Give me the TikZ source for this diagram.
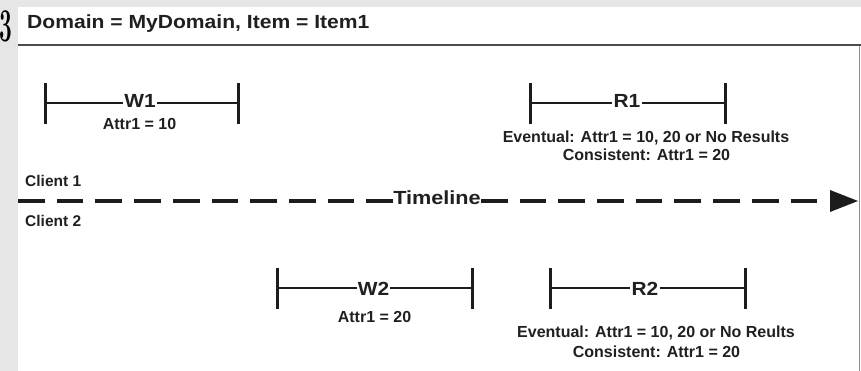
\documentclass[tikz,border=0pt]{standalone}
\usepackage{fontspec}
\newfontfamily\sansf{Liberation Sans}
\usetikzlibrary{calc}
\definecolor{bgc}{RGB}{230,230,230}
\definecolor{txtc}{RGB}{32,32,32}
\definecolor{linec}{RGB}{28,28,28}
\definecolor{rulec}{RGB}{75,75,75}
\definecolor{borderc}{RGB}{140,140,140}
\tikzset{
  small/.style={inner sep=0pt, anchor=base, text=txtc, font=\sansf\bfseries\fontsize{16}{16}\selectfont},
  client/.style={inner sep=0pt, anchor=base west, text=txtc, font=\sansf\bfseries\fontsize{15.5}{15.5}\selectfont},
  big/.style={inner sep=0pt, anchor=base, text=txtc, font=\sansf\bfseries\fontsize{19}{19}\selectfont},
  barline/.style={draw=linec, line width=2.5pt},
  tickline/.style={draw=linec, line width=3pt},
  timedash/.style={draw=linec, line width=3.8pt, dash pattern=on 26.7pt off 12pt},
}
\newcommand{\wide}[1]{\scalebox{1.1}[1]{#1}}
\begin{document}
\begin{tikzpicture}[x=1pt,y=-1pt]
\useasboundingbox (0,0) rectangle (861,371);
% background and panel
\fill[bgc] (0,0) rectangle (861,371);
\fill[white] (17.5,7) rectangle (861,371);
% digit at the left
\node[inner sep=0pt, anchor=base west, text=black, font=\bfseries\fontsize{47}{47}\selectfont] (digit) at (-1,42) {\scalebox{0.48}[1]{3}};
% title and rules
\node[big, anchor=base west] (title) at (27,29) {\scalebox{1.11}[1]{Domain = MyDomain, Item = Item1}};
\coordinate (ruleL) at (17.5,45);
\coordinate (ruleR) at (861,45);
\draw[rulec, line width=2pt] (ruleL) -- (ruleR);
\coordinate (bordT) at (859.5,46);
\coordinate (bordB) at (859.5,371);
\draw[borderc, line width=1.5pt] (bordT) -- (bordB);

% ---------- W1 ----------
\coordinate (w1l) at (45,103);
\coordinate (w1r) at (238,103);
\node[big] (w1) at (140,108) {\wide{W1}};
\draw[barline] (w1l) -- ($(w1.west |- w1l)+(-1,0)$);
\draw[barline] ($(w1.east |- w1r)+(1,0)$) -- (w1r);
\draw[tickline] ([yshift=20pt]w1l) -- ([yshift=-21pt]w1l);
\draw[tickline] ([yshift=20pt]w1r) -- ([yshift=-21pt]w1r);
\node[small] (w1a) at (139.5,130) {Attr1 = 10};

% ---------- R1 ----------
\coordinate (r1l) at (530,103);
\coordinate (r1r) at (725,103);
\node[big] (r1) at (627,108) {\wide{R1}};
\draw[barline] (r1l) -- ($(r1.west |- r1l)+(-1,0)$);
\draw[barline] ($(r1.east |- r1r)+(1,0)$) -- (r1r);
\draw[tickline] ([yshift=20pt]r1l) -- ([yshift=-21pt]r1l);
\draw[tickline] ([yshift=20pt]r1r) -- ([yshift=-21pt]r1r);
\node[small] (r1e) at (646,143) {Eventual: Attr1 = 10, 20 or No Results};
\node[small] (r1c) at (646.5,161) {Consistent: Attr1 = 20};

% ---------- clients and timeline ----------
\node[client] (c1) at (25,187) {Client 1};
\node[client] (c2) at (25,227) {Client 2};
\node[big] (tl) at (437,205) {\scalebox{1.14}[1]{Timeline}};
\coordinate (tlL) at (18,201);
\coordinate (tlR) at (818,201);
\draw[timedash] (tl.west |- tlL) -- (tlL);
\draw[timedash] (tl.east |- tlR) -- (tlR);
\coordinate (arrB) at (830,201);
\coordinate (arrT) at (858,201);
\fill[linec] ([yshift=11pt]arrB) -- (arrT) -- ([yshift=-11pt]arrB) -- cycle;

% ---------- W2 ----------
\coordinate (w2l) at (277,288);
\coordinate (w2r) at (472,288);
\node[big] (w2) at (373.5,295) {\wide{W2}};
\draw[barline] (w2l) -- ($(w2.west |- w2l)+(-1,0)$);
\draw[barline] ($(w2.east |- w2r)+(1,0)$) -- (w2r);
\draw[tickline] ([yshift=20pt]w2l) -- ([yshift=-21pt]w2l);
\draw[tickline] ([yshift=20pt]w2r) -- ([yshift=-21pt]w2r);
\node[small] (w2a) at (374.5,322) {Attr1 = 20};

% ---------- R2 ----------
\coordinate (r2l) at (550,288);
\coordinate (r2r) at (745,288);
\node[big] (r2) at (645,295) {\wide{R2}};
\draw[barline] (r2l) -- ($(r2.west |- r2l)+(-1,0)$);
\draw[barline] ($(r2.east |- r2r)+(1,0)$) -- (r2r);
\draw[tickline] ([yshift=20pt]r2l) -- ([yshift=-21pt]r2l);
\draw[tickline] ([yshift=20pt]r2r) -- ([yshift=-21pt]r2r);
\node[small] (r2e) at (656,337) {Eventual: Attr1 = 10, 20 or No Reults};
\node[small] (r2c) at (656.5,357) {Consistent: Attr1 = 20};
\end{tikzpicture}
\end{document}
